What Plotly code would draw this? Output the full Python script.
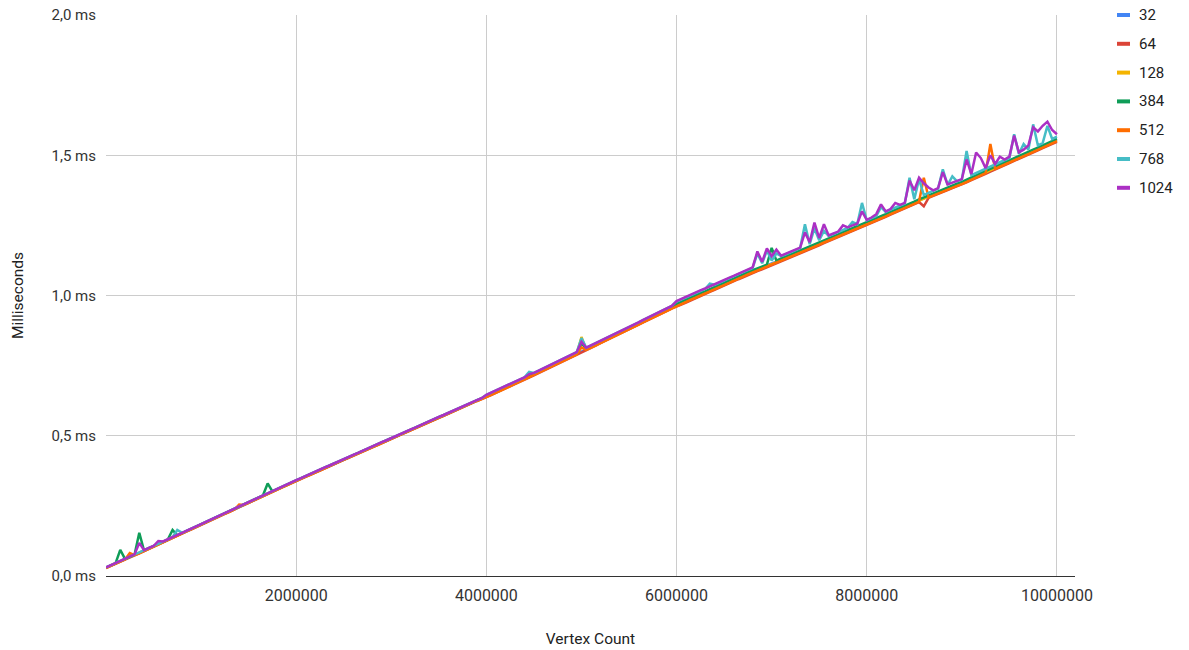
import plotly.graph_objects as go

# Vertex counts sampled every 50k, from 0 to 10M
vertex_step = 50_000
vertex_counts = list(range(0, 10_000_001, vertex_step))

# Frame times in microseconds per workgroup size (shown on the axis in ms)
t32_us = [
    29, 37, 44, 52, 60, 67, 75, 82, 90, 98,
    105, 113, 121, 129, 136, 144, 152, 160, 167, 175,
    183, 191, 199, 207, 215, 223, 230, 238, 246, 254,
    262, 270, 278, 286, 293, 301, 309, 317, 324, 332,
    340, 347, 355, 362, 370, 377, 385, 392, 400, 407,
    415, 422, 430, 437, 445, 452, 460, 467, 475, 482,
    490, 497, 505, 512, 520, 527, 535, 542, 550, 557,
    565, 572, 580, 587, 595, 602, 610, 617, 625, 632,
    640, 648, 656, 663, 671, 679, 687, 694, 702, 710,
    718, 726, 734, 743, 751, 759, 767, 775, 783, 792,
    800, 808, 816, 824, 833, 841, 849, 857, 865, 874,
    882, 890, 898, 907, 915, 923, 932, 940, 948, 957,
    967, 975, 982, 990, 997, 1005, 1012, 1020, 1027, 1035,
    1042, 1050, 1057, 1065, 1072, 1080, 1087, 1094, 1100, 1107,
    1114, 1121, 1129, 1136, 1143, 1150, 1158, 1165, 1172, 1179,
    1186, 1194, 1201, 1208, 1215, 1223, 1230, 1237, 1243, 1250,
    1257, 1265, 1272, 1280, 1287, 1295, 1302, 1310, 1317, 1325,
    1332, 1340, 1347, 1355, 1362, 1370, 1377, 1383, 1390, 1396,
    1402, 1410, 1418, 1425, 1433, 1441, 1449, 1456, 1464, 1472,
    1479, 1487, 1494, 1502, 1509, 1517, 1524, 1532, 1540, 1547,
    1555,
]
t64_us = [
    29, 36, 43, 51, 59, 66, 74, 81, 89, 97,
    104, 112, 120, 128, 135, 143, 151, 159, 166, 174,
    182, 190, 198, 206, 214, 222, 229, 237, 245, 253,
    261, 269, 277, 285, 292, 300, 308, 316, 323, 331,
    339, 346, 354, 361, 369, 376, 384, 391, 399, 406,
    414, 421, 429, 436, 444, 451, 459, 466, 474, 481,
    489, 496, 504, 511, 519, 526, 534, 541, 549, 556,
    564, 571, 579, 586, 594, 601, 609, 616, 624, 631,
    637, 645, 653, 660, 668, 676, 684, 691, 699, 707,
    715, 723, 731, 740, 748, 756, 764, 772, 780, 789,
    797, 805, 813, 821, 830, 838, 846, 854, 862, 871,
    879, 887, 895, 904, 912, 920, 929, 937, 945, 954,
    960, 968, 975, 983, 990, 998, 1005, 1013, 1020, 1028,
    1035, 1043, 1050, 1058, 1065, 1073, 1080, 1087, 1093, 1100,
    1107, 1114, 1122, 1129, 1136, 1143, 1151, 1158, 1165, 1172,
    1179, 1187, 1194, 1201, 1208, 1216, 1223, 1230, 1236, 1243,
    1250, 1258, 1265, 1273, 1280, 1288, 1295, 1303, 1310, 1318,
    1325, 1333, 1318, 1348, 1355, 1363, 1370, 1376, 1383, 1389,
    1395, 1403, 1411, 1418, 1426, 1434, 1442, 1449, 1457, 1465,
    1472, 1480, 1487, 1495, 1502, 1510, 1517, 1525, 1533, 1540,
    1548,
]
t128_us = [
    30, 37, 45, 52, 60, 68, 75, 83, 90, 98,
    106, 113, 121, 129, 137, 144, 152, 160, 168, 175,
    183, 191, 199, 207, 215, 222, 230, 238, 246, 254,
    262, 270, 278, 285, 293, 301, 309, 316, 324, 332,
    340, 348, 355, 363, 370, 378, 385, 393, 400, 408,
    415, 423, 430, 438, 445, 453, 460, 468, 475, 483,
    490, 498, 505, 513, 520, 528, 535, 543, 550, 558,
    565, 573, 580, 588, 595, 603, 610, 618, 625, 633,
    639, 647, 655, 662, 670, 678, 686, 693, 701, 709,
    717, 725, 733, 742, 750, 758, 766, 774, 782, 791,
    852, 807, 815, 823, 832, 840, 848, 856, 864, 873,
    881, 889, 897, 906, 914, 922, 931, 939, 947, 956,
    965, 973, 980, 988, 995, 1003, 1010, 1018, 1025, 1033,
    1040, 1048, 1055, 1063, 1070, 1078, 1085, 1092, 1098, 1105,
    1112, 1119, 1127, 1134, 1141, 1148, 1156, 1163, 1170, 1177,
    1184, 1192, 1199, 1206, 1213, 1221, 1228, 1235, 1241, 1248,
    1255, 1263, 1270, 1278, 1285, 1293, 1300, 1308, 1315, 1323,
    1330, 1338, 1345, 1353, 1360, 1368, 1375, 1381, 1388, 1394,
    1400, 1408, 1416, 1423, 1431, 1439, 1447, 1454, 1462, 1470,
    1477, 1485, 1492, 1500, 1507, 1515, 1522, 1530, 1538, 1545,
    1553,
]
t384_us = [
    30, 38, 45, 93, 61, 68, 76, 154, 91, 99,
    106, 114, 122, 130, 164, 145, 153, 161, 168, 176,
    184, 192, 200, 208, 216, 224, 231, 239, 247, 255,
    263, 271, 279, 287, 330, 302, 310, 318, 325, 333,
    341, 348, 356, 363, 371, 378, 386, 393, 401, 408,
    416, 423, 431, 438, 446, 453, 461, 468, 476, 483,
    491, 498, 506, 513, 521, 528, 536, 543, 551, 558,
    566, 573, 581, 588, 596, 603, 611, 618, 626, 633,
    642, 650, 658, 665, 673, 681, 689, 696, 704, 712,
    720, 728, 736, 745, 753, 761, 769, 777, 785, 794,
    830, 810, 818, 826, 835, 843, 851, 859, 867, 876,
    884, 892, 900, 909, 917, 925, 934, 942, 950, 959,
    970, 978, 985, 993, 1000, 1008, 1015, 1023, 1030, 1038,
    1045, 1053, 1060, 1068, 1075, 1083, 1090, 1097, 1103, 1110,
    1170, 1124, 1132, 1139, 1146, 1153, 1161, 1168, 1175, 1182,
    1189, 1197, 1204, 1211, 1218, 1226, 1233, 1240, 1246, 1253,
    1260, 1268, 1275, 1283, 1290, 1298, 1305, 1313, 1320, 1328,
    1335, 1343, 1350, 1358, 1365, 1373, 1380, 1386, 1393, 1399,
    1405, 1413, 1421, 1428, 1436, 1444, 1452, 1459, 1467, 1475,
    1482, 1490, 1497, 1505, 1512, 1520, 1527, 1535, 1543, 1550,
    1558,
]
t512_us = [
    28, 36, 43, 51, 59, 82, 74, 81, 89, 97,
    104, 112, 120, 128, 135, 143, 151, 159, 166, 174,
    182, 190, 198, 206, 215, 222, 229, 237, 255, 253,
    261, 269, 277, 285, 292, 300, 308, 316, 323, 331,
    339, 346, 354, 361, 369, 376, 384, 391, 399, 406,
    414, 421, 429, 436, 444, 451, 459, 466, 474, 481,
    489, 496, 504, 511, 519, 526, 534, 541, 549, 556,
    564, 571, 579, 586, 594, 601, 609, 616, 624, 631,
    638, 646, 654, 661, 669, 677, 685, 692, 700, 708,
    716, 724, 732, 741, 749, 757, 765, 773, 781, 790,
    815, 806, 814, 822, 831, 839, 847, 855, 863, 872,
    880, 888, 896, 905, 913, 921, 930, 938, 946, 955,
    962, 970, 977, 985, 992, 1000, 1007, 1015, 1022, 1030,
    1037, 1045, 1052, 1060, 1067, 1075, 1082, 1089, 1095, 1102,
    1109, 1116, 1124, 1131, 1138, 1145, 1153, 1160, 1167, 1174,
    1181, 1189, 1196, 1203, 1210, 1218, 1225, 1232, 1238, 1245,
    1252, 1260, 1267, 1275, 1282, 1290, 1297, 1305, 1312, 1320,
    1327, 1335, 1420, 1350, 1357, 1365, 1372, 1378, 1385, 1391,
    1397, 1405, 1413, 1420, 1428, 1436, 1540, 1451, 1459, 1467,
    1474, 1482, 1489, 1497, 1504, 1512, 1519, 1527, 1535, 1542,
    1550,
]
t768_us = [
    31, 39, 46, 54, 62, 69, 77, 84, 92, 100,
    107, 115, 123, 131, 138, 164, 154, 162, 169, 177,
    185, 193, 201, 209, 217, 225, 232, 240, 248, 256,
    264, 272, 280, 288, 295, 303, 311, 319, 326, 334,
    342, 349, 357, 364, 372, 379, 387, 394, 402, 409,
    417, 424, 432, 439, 447, 454, 462, 469, 477, 484,
    492, 499, 507, 514, 522, 529, 537, 544, 552, 559,
    567, 574, 582, 589, 597, 604, 612, 619, 627, 634,
    646, 654, 662, 669, 677, 685, 693, 700, 708, 728,
    724, 732, 740, 749, 757, 765, 773, 781, 789, 798,
    848, 814, 822, 830, 839, 847, 855, 863, 871, 880,
    888, 896, 904, 913, 921, 929, 938, 946, 954, 963,
    978, 986, 993, 1001, 1008, 1016, 1023, 1042, 1038, 1046,
    1053, 1061, 1068, 1076, 1083, 1091, 1098, 1150, 1115, 1160,
    1125, 1150, 1140, 1147, 1154, 1161, 1169, 1254, 1183, 1240,
    1197, 1230, 1212, 1219, 1226, 1234, 1241, 1262, 1254, 1330,
    1268, 1276, 1283, 1315, 1298, 1306, 1313, 1321, 1328, 1420,
    1343, 1415, 1358, 1366, 1373, 1381, 1450, 1394, 1425, 1407,
    1413, 1515, 1429, 1436, 1444, 1452, 1460, 1467, 1475, 1483,
    1490, 1575, 1505, 1540, 1520, 1610, 1535, 1543, 1605, 1558,
    1566,
]
t1024_us = [
    31, 39, 46, 54, 62, 69, 77, 118, 92, 100,
    107, 125, 123, 131, 138, 146, 154, 162, 169, 177,
    185, 193, 201, 209, 217, 225, 232, 240, 248, 256,
    264, 272, 280, 288, 295, 303, 311, 319, 326, 334,
    342, 349, 357, 364, 372, 379, 387, 394, 402, 409,
    417, 424, 432, 439, 447, 454, 462, 469, 477, 484,
    492, 499, 507, 514, 522, 529, 537, 544, 552, 559,
    567, 574, 582, 589, 597, 604, 612, 619, 627, 634,
    646, 654, 662, 669, 677, 685, 693, 700, 708, 720,
    724, 732, 740, 749, 757, 765, 773, 781, 789, 798,
    835, 814, 822, 830, 839, 847, 855, 863, 871, 880,
    888, 896, 904, 913, 921, 929, 938, 946, 954, 963,
    980, 988, 995, 1003, 1010, 1018, 1025, 1033, 1040, 1048,
    1055, 1063, 1070, 1078, 1085, 1093, 1100, 1157, 1120, 1168,
    1140, 1164, 1142, 1149, 1156, 1163, 1171, 1225, 1190, 1260,
    1205, 1254, 1214, 1221, 1228, 1250, 1243, 1250, 1256, 1300,
    1270, 1278, 1290, 1325, 1300, 1308, 1330, 1323, 1330, 1410,
    1375, 1420, 1400, 1385, 1375, 1383, 1440, 1396, 1403, 1409,
    1415, 1485, 1433, 1510, 1490, 1454, 1500, 1469, 1495, 1485,
    1495, 1570, 1510, 1520, 1535, 1600, 1585, 1605, 1620, 1590,
    1575,
]

series_names = ["32", "64", "128", "384", "512", "768", "1024"]
series_values = [t32_us, t64_us, t128_us, t384_us, t512_us, t768_us, t1024_us]
series_colors = ["#4285F4", "#DB4437", "#F4B400", "#0F9D58",
                 "#FF6D00", "#46BDC6", "#AB30C4"]

y_tick_values = [0.0, 0.5, 1.0, 1.5, 2.0]
y_tick_labels = ["0,0 ms", "0,5 ms", "1,0 ms", "1,5 ms", "2,0 ms"]
x_tick_values = [2_000_000, 4_000_000, 6_000_000, 8_000_000, 10_000_000]
x_tick_labels = ["2000000", "4000000", "6000000", "8000000", "10000000"]

FONT = "Roboto, Arial, sans-serif"

fig = go.Figure()
for name, vals, color in zip(series_names, series_values, series_colors):
    fig.add_trace(go.Scatter(
        x=vertex_counts,
        y=[v / 1000 for v in vals],
        mode="lines",
        name=name,
        line=dict(color=color, width=2.5),
        showlegend=False,
    ))

# Legend drawn at the right: short colour bar plus label per series
L, R, T, B = 106, 114, 15, 74
W, H = 1189, 650
pw, ph = W - L - R, H - T - B
shapes, annotations = [], []
for i, (name, color) in enumerate(zip(series_names, series_colors)):
    py = 15 + 28.8 * i
    yp = (H - B - py) / ph
    shapes.append(dict(
        type="line", xref="paper", yref="paper",
        x0=(1117 - L) / pw, x1=(1130 - L) / pw, y0=yp, y1=yp,
        line=dict(color=color, width=4),
    ))
    annotations.append(dict(
        xref="paper", yref="paper", x=(1137 - L) / pw, y=yp,
        text=name, showarrow=False, xanchor="left", yanchor="middle",
        font=dict(family=FONT, size=15, color="#222222"),
    ))

fig.update_layout(
    width=W, height=H,
    margin=dict(l=L, r=R, t=T, b=B),
    paper_bgcolor="white", plot_bgcolor="white",
    font=dict(family=FONT, size=14, color="#444444"),
    shapes=shapes, annotations=annotations,
    showlegend=False,
    xaxis=dict(
        range=[0, 10_190_000],
        tickvals=x_tick_values, ticktext=x_tick_labels,
        tickfont=dict(family=FONT, size=16, color="#333333"),
        showgrid=True, gridcolor="#cccccc", gridwidth=1,
        zeroline=False, showline=True, linecolor="#333333", linewidth=1,
        ticks="", ticklabelstandoff=5,
        title=dict(text="Vertex Count", standoff=28,
                   font=dict(family=FONT, size=15.5, color="#222222")),
        automargin=False,
    ),
    yaxis=dict(
        range=[0, 2.0],
        tickvals=y_tick_values, ticktext=y_tick_labels,
        tickfont=dict(family=FONT, size=15, color="#333333"),
        showgrid=True, gridcolor="#cccccc", gridwidth=1,
        zeroline=False, showline=False,
        ticks="", ticklabelstandoff=9,
        title=dict(text="Milliseconds", standoff=24,
                   font=dict(family=FONT, size=15.5, color="#222222")),
        automargin=False,
    ),
)

fig.write_html("out.html")
